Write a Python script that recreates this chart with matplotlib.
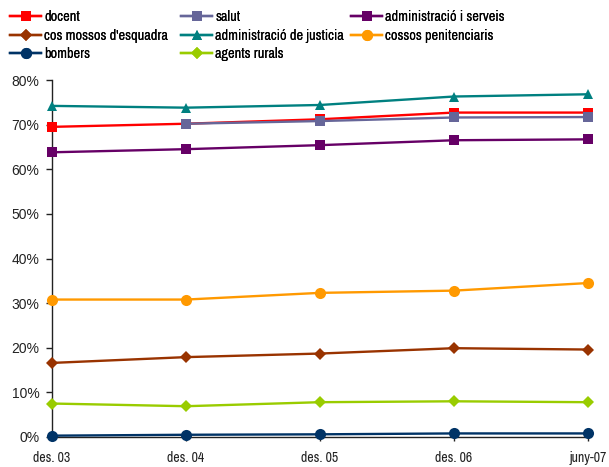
import numpy as np
import matplotlib
matplotlib.use("Agg")
import matplotlib.pyplot as plt
from matplotlib.ticker import FuncFormatter

periods = ["des. 03", "des. 04", "des. 05", "des. 06", "juny-07"]

docent = [69.5, 70.2, 71.2, 72.7, 72.7]
salut = [np.nan, 70.2, 70.8, 71.6, 71.7]
admin_serveis = [63.8, 64.5, 65.4, 66.5, 66.7]
mossos = [16.6, 17.9, 18.7, 19.9, 19.6]
admin_justicia = [74.2, 73.8, 74.4, 76.3, 76.8]
cossos_pen = [30.8, 30.8, 32.3, 32.8, 34.5]
bombers = [0.3, 0.5, 0.6, 0.8, 0.8]
agents_rurals = [7.5, 6.9, 7.8, 8.0, 7.8]

series = [
    ("docent", docent, "#FF0000", "s"),
    ("salut", salut, "#666699", "s"),
    ("administració i serveis", admin_serveis, "#660066", "s"),
    ("cos mossos d'esquadra", mossos, "#993300", "D"),
    ("administració de justicia", admin_justicia, "#008080", "^"),
    ("cossos penitenciaris", cossos_pen, "#FF9900", "o"),
    ("bombers", bombers, "#003366", "o"),
    ("agents rurals", agents_rurals, "#99CC00", "D"),
]

regular = ["Liberation Sans", "DejaVu Sans"]
narrow = ["Archivo Narrow", "Liberation Sans", "DejaVu Sans"]

fig = plt.figure(figsize=(6.09, 4.67), dpi=100)
ax = fig.add_axes([52/609, (467-437)/467, (588-52)/609, (437-80)/467])

x = np.arange(len(periods))
handles = {}
msize = {"s": 6.5, "D": 6, "^": 7.5, "o": 8}
for name, vals, col, mk in series:
    h, = ax.plot(x, np.array(vals) / 100.0, color=col, marker=mk, lw=1.7,
                 markersize=msize[mk], markeredgewidth=0, label=name,
                 clip_on=False, zorder=3)
    handles[name] = h

ax.set_xlim(0, len(periods) - 1)
ax.set_ylim(0, 0.8)
ax.set_yticks(np.arange(0, 0.81, 0.1))
ax.yaxis.set_major_formatter(FuncFormatter(lambda v, p: f"{v*100:.0f}%"))
ax.set_xticks(x)
ax.set_xticklabels(periods, fontfamily=narrow, fontsize=10, color="#222222")
for lab in ax.get_yticklabels():
    lab.set_fontfamily(regular)
    lab.set_fontsize(10)
    lab.set_color("#222222")
for s in ["top", "right"]:
    ax.spines[s].set_visible(False)
for s in ["left", "bottom"]:
    ax.spines[s].set_color("#222222")
    ax.spines[s].set_linewidth(1.0)
ax.tick_params(axis="y", direction="out", length=4, width=1, color="#222222", pad=5)
ax.tick_params(axis="x", direction="inout", length=6, width=1, color="#222222", pad=7)

columns = [
    (["docent", "cos mossos d'esquadra", "bombers"], 10),
    (["salut", "administració de justicia", "agents rurals"], 181),
    (["administració i serveis", "cossos penitenciaris"], 351),
]
for names, xpix in columns:
    leg = fig.legend([handles[n] for n in names], names, loc="upper left",
                     bbox_to_anchor=(xpix/609, 1 - 10/467), ncol=1, frameon=False,
                     borderpad=0, borderaxespad=0, handlelength=2.2,
                     handletextpad=0.2, labelspacing=0.33,
                     prop={"family": narrow, "size": 10.3})
    fig.add_artist(leg)

fig.savefig("out.png", dpi=100)
